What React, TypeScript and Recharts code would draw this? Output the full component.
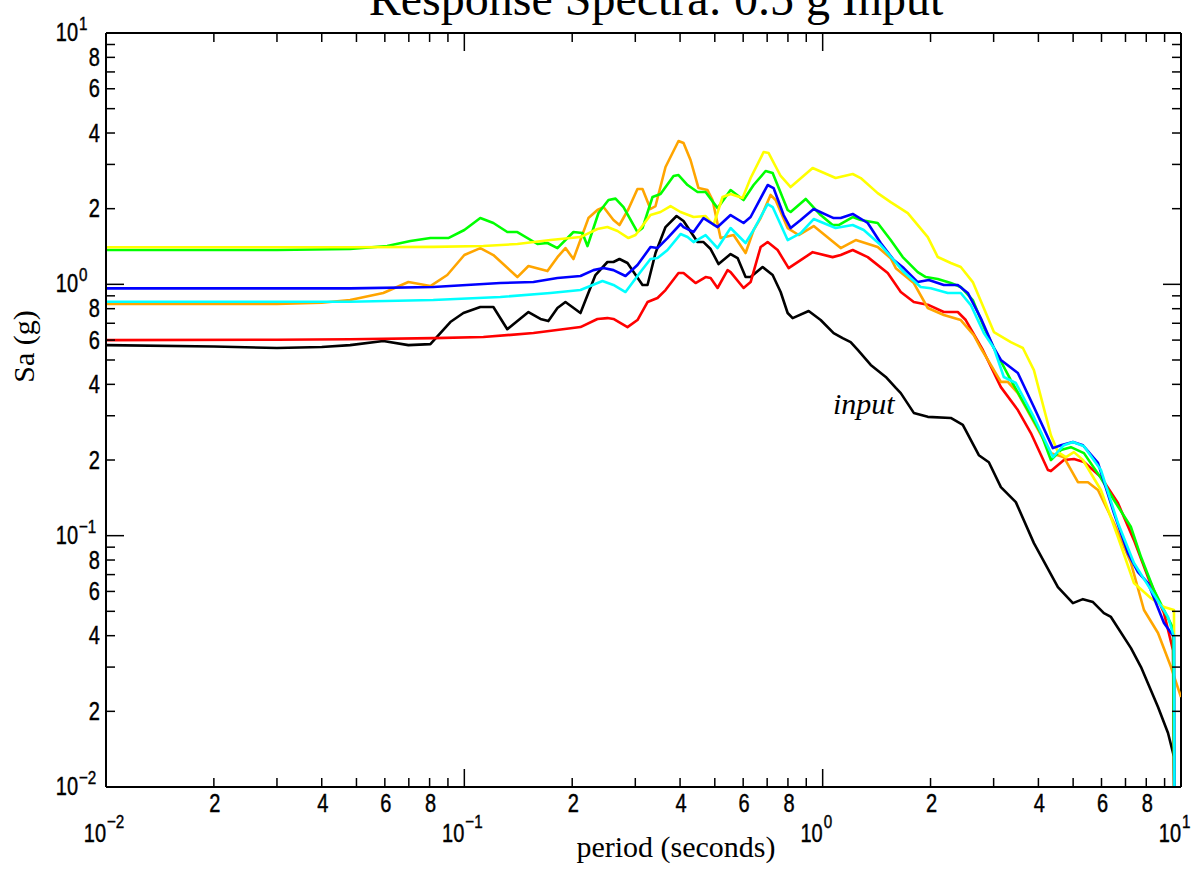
import React from "react";
import { LineChart, Line, XAxis, YAxis, ReferenceLine } from "recharts";

// ---------- data: [period (s), Sa (g)] ----------
const INPUT: [number, number][] = [
  [0.01, 0.573], [0.02, 0.566], [0.03, 0.558], [0.04, 0.563], [0.048, 0.573], [0.0594, 0.595], [0.0698, 0.573],
  [0.0804, 0.578], [0.0914, 0.708], [0.0994, 0.769], [0.1108, 0.812], [0.1205, 0.812], [0.1318, 0.663],
  [0.151, 0.776], [0.1631, 0.728], [0.1716, 0.714], [0.1819, 0.805], [0.1915, 0.85], [0.2109, 0.769],
  [0.2322, 1.089], [0.2508, 1.227], [0.2607, 1.227], [0.271, 1.261], [0.2853, 1.216], [0.3142, 0.994],
  [0.3245, 0.994], [0.3416, 1.332], [0.3643, 1.69], [0.3911, 1.87], [0.409, 1.786], [0.4475, 1.473],
  [0.4651, 1.473], [0.4867, 1.382], [0.5123, 1.204], [0.5534, 1.32], [0.5789, 1.272], [0.6094, 1.069],
  [0.6294, 1.069], [0.6799, 1.172], [0.7251, 1.089], [0.7634, 0.932], [0.7985, 0.769], [0.8246, 0.734],
  [0.914, 0.783], [0.9871, 0.721], [1.073, 0.64], [1.137, 0.611], [1.197, 0.589], [1.253, 0.548],
  [1.362, 0.478], [1.5, 0.428], [1.6, 0.387], [1.652, 0.369], [1.796, 0.308], [1.965, 0.297], [2.278, 0.294],
  [2.461, 0.276], [2.728, 0.209], [2.909, 0.196], [3.143, 0.156], [3.46, 0.136], [3.886, 0.0934],
  [4.534, 0.0624], [4.993, 0.0539], [5.325, 0.0559], [5.68, 0.0544], [6.094, 0.0492], [6.375, 0.0475],
  [7.251, 0.0357], [7.734, 0.03], [8.627, 0.0208], [9.199, 0.0164], [9.559, 0.0132], [9.6, 0.005],
];

const RED: [number, number][] = [
  [0.01, 0.6], [0.03, 0.602], [0.048, 0.605], [0.0819, 0.611], [0.113, 0.617], [0.1559, 0.64], [0.2109, 0.676],
  [0.2352, 0.728], [0.2508, 0.734], [0.2607, 0.728], [0.2853, 0.676], [0.3042, 0.721], [0.3245, 0.85],
  [0.346, 0.882], [0.3643, 0.949], [0.396, 1.109], [0.409, 1.109], [0.4418, 1.012], [0.4713, 1.069],
  [0.4867, 1.059], [0.509, 0.967], [0.5428, 1.139], [0.5534, 1.119], [0.6016, 0.967], [0.6294, 1.021],
  [0.6712, 1.407], [0.7022, 1.473], [0.7487, 1.369], [0.8036, 1.16], [0.8682, 1.248], [0.9377, 1.343],
  [1.066, 1.283], [1.123, 1.308], [1.213, 1.369], [1.336, 1.283], [1.519, 1.109], [1.652, 0.932],
  [1.796, 0.85], [1.978, 0.827], [2.178, 0.776], [2.383, 0.776], [2.508, 0.721], [2.799, 0.548],
  [3.143, 0.39], [3.505, 0.316], [3.811, 0.256], [4.252, 0.1825], [4.335, 0.1807], [4.713, 0.2],
  [5.026, 0.2018], [5.359, 0.1963], [5.977, 0.1711], [6.668, 0.1348], [7.391, 0.096], [8.088, 0.0684],
  [8.964, 0.0492], [9.5, 0.035], [9.6, 0.005],
];

const ORANGE: [number, number][] = [
  [0.01, 0.835], [0.02, 0.835], [0.03, 0.835], [0.04, 0.845], [0.048, 0.866], [0.0594, 0.924], [0.0698, 1.021],
  [0.0804, 0.984], [0.0896, 1.089], [0.1, 1.308], [0.1108, 1.394], [0.1205, 1.308], [0.1406, 1.069],
  [0.151, 1.183], [0.1706, 1.129], [0.1819, 1.283], [0.1915, 1.394], [0.2016, 1.261], [0.222, 1.835],
  [0.2352, 1.976], [0.2445, 2.03], [0.2607, 1.803], [0.271, 1.722], [0.2871, 1.994], [0.3042, 2.394],
  [0.3142, 2.394], [0.3308, 1.994], [0.3416, 2.049], [0.3643, 2.93], [0.396, 3.718], [0.409, 3.65],
  [0.4278, 3.124], [0.4503, 2.416], [0.4771, 2.373], [0.4928, 2.165], [0.5189, 1.528], [0.5641, 1.571],
  [0.6094, 1.332], [0.6416, 1.645], [0.6712, 1.835], [0.7155, 2.269], [0.7389, 2.165], [0.7985, 1.675],
  [0.857, 1.571], [0.9439, 1.706], [1.123, 1.394], [1.237, 1.5], [1.424, 1.407], [1.548, 1.271], [1.6, 1.16],
  [1.796, 1.012], [1.965, 0.805], [2.178, 0.755], [2.429, 0.721], [2.641, 0.628], [2.762, 0.558],
  [3.143, 0.409], [3.286, 0.409], [3.505, 0.369], [3.886, 0.283], [4.335, 0.213], [4.713, 0.205],
  [5.157, 0.1632], [5.499, 0.1632], [5.865, 0.152], [6.5, 0.1122], [7.251, 0.0778], [7.883, 0.0506],
  [8.627, 0.041], [9.378, 0.03], [10, 0.0228],
];

const GREEN: [number, number][] = [
  [0.01, 1.37], [0.03, 1.37], [0.048, 1.382], [0.0609, 1.42], [0.0707, 1.487], [0.0804, 1.528], [0.0902, 1.528],
  [0.1, 1.645], [0.1108, 1.835], [0.1205, 1.754], [0.1318, 1.615], [0.1406, 1.615], [0.16, 1.447],
  [0.1706, 1.46], [0.1819, 1.394], [0.2016, 1.615], [0.2136, 1.6], [0.2206, 1.42], [0.2368, 1.922],
  [0.2525, 2.165], [0.2642, 2.193], [0.2781, 2.03], [0.3042, 1.615], [0.3142, 1.675], [0.3351, 2.226],
  [0.3528, 2.288], [0.3836, 2.698], [0.396, 2.722], [0.4197, 2.484], [0.4475, 2.329], [0.4713, 2.329],
  [0.509, 2.01], [0.5534, 2.373], [0.6016, 2.165], [0.6416, 2.484], [0.6932, 2.824], [0.7251, 2.773],
  [0.7985, 1.976], [0.8141, 1.94], [0.8966, 2.186], [0.9871, 1.887], [1.066, 1.722], [1.108, 1.722],
  [1.213, 1.853], [1.277, 1.803], [1.424, 1.754], [1.548, 1.5], [1.673, 1.284], [1.842, 1.119],
  [1.94, 1.069], [2.095, 1.05], [2.278, 1.012], [2.429, 0.976], [2.624, 0.866], [2.817, 0.676],
  [3.005, 0.558], [3.35, 0.416], [3.738, 0.316], [4.064, 0.256], [4.335, 0.2], [4.622, 0.219],
  [4.928, 0.225], [5.359, 0.213], [5.977, 0.1695], [6.5, 0.1386], [7.251, 0.1082], [7.734, 0.0822],
  [8.407, 0.0607], [9.5, 0.0429], [9.6, 0.005],
];

const YELLOW: [number, number][] = [
  [0.01, 1.405], [0.03, 1.405], [0.048, 1.405], [0.0819, 1.41], [0.113, 1.42], [0.1406, 1.447], [0.1739, 1.5],
  [0.2109, 1.542], [0.2352, 1.66], [0.2508, 1.69], [0.2676, 1.63], [0.2871, 1.528], [0.3004, 1.571],
  [0.3308, 1.887], [0.3528, 1.94], [0.3762, 2.049], [0.4012, 1.94], [0.4362, 1.853], [0.4713, 1.87],
  [0.496, 1.722], [0.5256, 2.226], [0.5534, 2.288], [0.5977, 2.205], [0.6294, 2.648], [0.6843, 3.361],
  [0.7067, 3.33], [0.7634, 2.698], [0.8141, 2.439], [0.9377, 2.904], [1.087, 2.648], [1.213, 2.748],
  [1.277, 2.648], [1.424, 2.306], [1.548, 2.124], [1.728, 1.92], [1.965, 1.542], [2.095, 1.284],
  [2.278, 1.216], [2.429, 1.172], [2.624, 1.021], [3.005, 0.646], [3.35, 0.589], [3.62, 0.558],
  [3.886, 0.456], [4.335, 0.251], [4.534, 0.215], [4.774, 0.2055], [5.026, 0.215], [5.325, 0.2],
  [5.977, 0.152], [6.668, 0.0988], [7.391, 0.0648], [8.247, 0.0564], [8.964, 0.052], [9.559, 0.0506],
  [9.6, 0.005],
];

const BLUE: [number, number][] = [
  [0.01, 0.964], [0.03, 0.964], [0.048, 0.964], [0.0819, 0.976], [0.126, 1.012], [0.1559, 1.021],
  [0.1819, 1.059], [0.2109, 1.079], [0.2293, 1.139], [0.2445, 1.161], [0.2607, 1.139], [0.2817, 1.079],
  [0.3042, 1.193], [0.3308, 1.407], [0.346, 1.394], [0.369, 1.528], [0.4012, 1.738], [0.409, 1.69],
  [0.4362, 1.615], [0.4651, 1.835], [0.509, 1.69], [0.5534, 1.887], [0.6016, 1.754], [0.6294, 1.853],
  [0.7022, 2.484], [0.7294, 2.416], [0.7781, 1.887], [0.8141, 1.675], [0.8682, 1.803], [0.9439, 1.994],
  [1.073, 1.835], [1.123, 1.835], [1.213, 1.905], [1.336, 1.754], [1.452, 1.46], [1.579, 1.249],
  [1.684, 1.16], [1.842, 1.021], [1.978, 1.04], [2.178, 0.994], [2.383, 0.994], [2.541, 0.924],
  [2.762, 0.734], [3.005, 0.558], [3.143, 0.5], [3.505, 0.444], [3.886, 0.325], [4.39, 0.223],
  [4.622, 0.229], [4.993, 0.236], [5.325, 0.229], [5.865, 0.195], [6.5, 0.123], [7.112, 0.0852],
  [7.586, 0.0716], [8.088, 0.0648], [8.964, 0.0449], [9.559, 0.0395], [9.6, 0.005],
];

const CYAN: [number, number][] = [
  [0.01, 0.853], [0.03, 0.853], [0.048, 0.853], [0.0819, 0.866], [0.126, 0.89], [0.1739, 0.924],
  [0.2109, 0.949], [0.2429, 1.031], [0.2607, 0.994], [0.2817, 0.932], [0.3101, 1.119], [0.3308, 1.261],
  [0.346, 1.272], [0.369, 1.369], [0.4012, 1.585], [0.4197, 1.542], [0.4362, 1.473], [0.4713, 1.571],
  [0.509, 1.394], [0.5534, 1.675], [0.6094, 1.46], [0.6416, 1.645], [0.7022, 2.087], [0.7251, 2.03],
  [0.7985, 1.5], [0.8682, 1.6], [0.9439, 1.819], [1.087, 1.675], [1.213, 1.722], [1.302, 1.645],
  [1.452, 1.433], [1.579, 1.249], [1.684, 1.119], [1.878, 0.976], [2.003, 0.964], [2.234, 0.924],
  [2.429, 0.924], [2.591, 0.827], [2.817, 0.64], [3.005, 0.558], [3.203, 0.428], [3.46, 0.405],
  [3.886, 0.296], [4.39, 0.2055], [4.713, 0.229], [4.993, 0.236], [5.359, 0.227], [5.977, 0.1825],
  [6.668, 0.1122], [7.391, 0.0778], [8.247, 0.0607], [9.199, 0.0475], [9.559, 0.0395], [9.6, 0.005],
];

const SERIES = [
  { name: "input", color: "#000000", pts: INPUT },
  { name: "red", color: "#ff0000", pts: RED },
  { name: "orange", color: "#ffa500", pts: ORANGE },
  { name: "green", color: "#00ff00", pts: GREEN },
  { name: "yellow", color: "#ffff00", pts: YELLOW },
  { name: "blue", color: "#0000ff", pts: BLUE },
  { name: "cyan", color: "#00ffff", pts: CYAN },
];

// ---------- axes ----------
const DECADES = [-2, -1, 0];
const MANTISSAS = [1, 2, 3, 4, 5, 6, 7, 8, 9];
const LABELED_MINOR = [2, 4, 6, 8];
const DOMAIN: [number, number] = [0.01, 10];
const LOG_TICKS: number[] = [];
DECADES.forEach((e) => MANTISSAS.forEach((m) => LOG_TICKS.push(Number((m * Math.pow(10, e)).toPrecision(6)))));
LOG_TICKS.push(10);

const TITLE = "Response Spectra: 0.5 g Input";
const X_LABEL = "period (seconds)";
const Y_LABEL = "Sa (g)";
const CURVE_LABEL = "input";

// ---------- layout ----------
const W = 1195;
const H = 869;
const M_TOP = 33;
const M_RIGHT = 14;
const Y_AXIS_W = 106;
const X_AXIS_H = 82;
const PLOT_RIGHT = W - M_RIGHT;
const PLOT_TOP = M_TOP;

const TICK_FONT = "'Liberation Sans', Arial, sans-serif";
const NARROW = 0.8;
const SERIF = "'Liberation Serif', 'Times New Roman', serif";
const MAJOR_LEN = 18;
const MINOR_LEN = 9;
const TICK_W = 1.5;

function decompose(v: number) {
  const e = Math.floor(Math.log10(v) + 1e-9);
  const m = Math.round(v / Math.pow(10, e));
  return { e, m };
}

// narrow (Helvetica-Narrow-like) label: horizontally squeezed text
const NarrowText = ({ x, y, size, anchor, children }: any) => (
  <g transform={`translate(${x},${y}) scale(${NARROW},1)`}>
    <text x={0} y={0} fontSize={size} textAnchor={anchor} fontFamily={TICK_FONT} fill="#000" stroke="#000" strokeWidth={0.45}>
      {children}
    </text>
  </g>
);

const expText = (e: number) => String(e).replace("-", "\u2212");

const XTick = (props: any) => {
  const { x, y, payload } = props;
  const { e, m } = decompose(payload.value);
  const major = m === 1;
  const len = major ? MAJOR_LEN : MINOR_LEN;
  return (
    <g>
      <line x1={x} y1={y} x2={x} y2={y - len} stroke="#000" strokeWidth={TICK_W} />
      <line x1={x} y1={PLOT_TOP} x2={x} y2={PLOT_TOP + len} stroke="#000" strokeWidth={TICK_W} />
      {major ? (
        <g>
          <NarrowText x={x} y={y + 55} size={25} anchor="end">10</NarrowText>
          <NarrowText x={x + 1} y={y + 41} size={19} anchor="start">{expText(e)}</NarrowText>
        </g>
      ) : LABELED_MINOR.includes(m) ? (
        <NarrowText x={x + 1} y={y + 25} size={25} anchor="middle">{m}</NarrowText>
      ) : null}
    </g>
  );
};

const YTick = (props: any) => {
  const { x, y, payload } = props;
  const { e, m } = decompose(payload.value);
  const major = m === 1;
  const len = major ? MAJOR_LEN : MINOR_LEN;
  return (
    <g>
      <line x1={x} y1={y} x2={x + len} y2={y} stroke="#000" strokeWidth={TICK_W} />
      <line x1={PLOT_RIGHT - len} y1={y} x2={PLOT_RIGHT} y2={y} stroke="#000" strokeWidth={TICK_W} />
      {major ? (
        <g>
          <NarrowText x={x - 28} y={y + 8} size={25} anchor="end">10</NarrowText>
          <NarrowText x={x - 27} y={y - 3} size={19} anchor="start">{expText(e)}</NarrowText>
        </g>
      ) : LABELED_MINOR.includes(m) ? (
        <NarrowText x={x - 6} y={y + 8.5} size={25} anchor="end">{m}</NarrowText>
      ) : null}
    </g>
  );
};

export default function App() {
  return (
    <div style={{ position: "absolute", left: 0, top: 0, width: W, height: H, background: "#fff" }}>
      <LineChart width={W} height={H} margin={{ top: M_TOP, right: M_RIGHT, left: 0, bottom: 0 }}>
        <XAxis
          dataKey="x"
          type="number"
          scale="log"
          domain={DOMAIN}
          allowDataOverflow
          ticks={LOG_TICKS}
          interval={0}
          height={X_AXIS_H}
          tickSize={0}
          tickMargin={0}
          tickLine={false}
          tick={<XTick />}
          axisLine={{ stroke: "#000", strokeWidth: 2 }}
        />
        <YAxis
          dataKey="y"
          type="number"
          scale="log"
          domain={DOMAIN}
          allowDataOverflow
          ticks={LOG_TICKS}
          interval={0}
          width={Y_AXIS_W}
          tickSize={0}
          tickMargin={0}
          tickLine={false}
          tick={<YTick />}
          axisLine={{ stroke: "#000", strokeWidth: 2 }}
        />
        <ReferenceLine y={10} stroke="#000" strokeWidth={2} />
        <ReferenceLine x={10} stroke="#000" strokeWidth={2} />
        {SERIES.map((s) => (
          <Line
            key={s.name}
            data={s.pts.map(([x, y]) => ({ x, y }))}
            dataKey="y"
            type="linear"
            stroke={s.color}
            strokeWidth={2.6}
            strokeLinejoin="round"
            dot={false}
            activeDot={false}
            isAnimationActive={false}
          />
        ))}
      </LineChart>
      <svg width={W} height={H} style={{ position: "absolute", left: 0, top: 0, pointerEvents: "none" }}>
        <text x={656} y={15} fontSize={48} textAnchor="middle" fontFamily={SERIF} fill="#000">{TITLE}</text>
        <text x={676} y={857} fontSize={30} textAnchor="middle" fontFamily={SERIF} fill="#000">{X_LABEL}</text>
        <text x={34} y={346.5} fontSize={30} textAnchor="middle" fontFamily={SERIF} fill="#000" transform="rotate(-90 34 346.5)">{Y_LABEL}</text>
        <text x={833} y={414} fontSize={30} fontStyle="italic" fontFamily={SERIF} fill="#000">{CURVE_LABEL}</text>
      </svg>
    </div>
  );
}
